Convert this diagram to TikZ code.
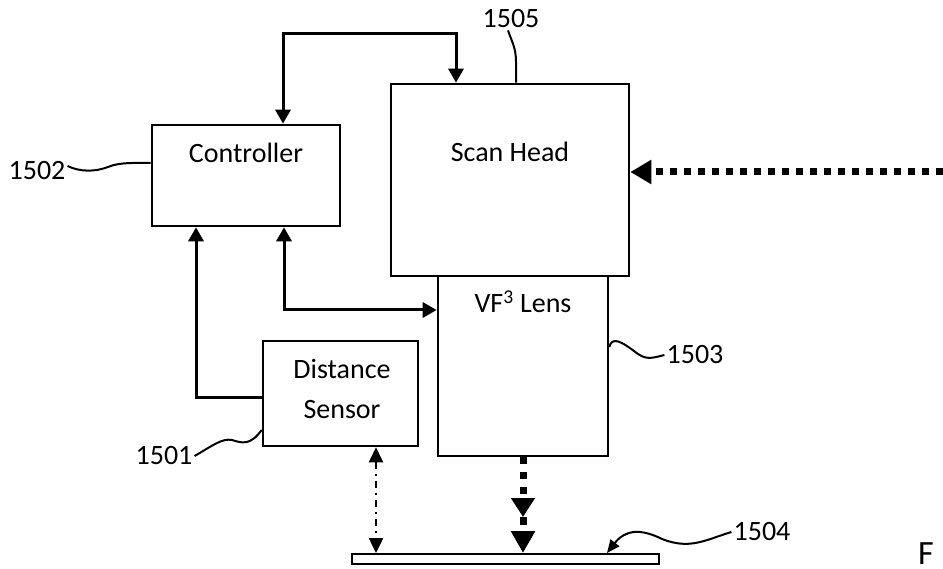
\documentclass[tikz,border=0pt]{standalone}
\usepackage{fontspec}
\setmainfont{Carlito}
\usetikzlibrary{arrows.meta,calc}
\begin{document}
\begin{tikzpicture}[x=1pt,y=-1pt,
  every node/.style={font=\fontsize{28}{32}\selectfont},
  blk/.style={draw, line width=2.6pt, inner sep=0pt},
  conn/.style={line width=3pt, >={Triangle[width=15pt,length=14pt]}},
  lead/.style={line width=2pt},
  num/.style={inner sep=2pt},
  thickdot/.style={line width=7pt, dash pattern=on 7pt off 7pt}]
\fill[white] (0,0) rectangle (943,569);
\useasboundingbox (0,0) rectangle (943,569);

% blocks
\node[blk, minimum width=188pt, minimum height=101pt] (ctrl) at (246,175.5) {};
\node[blk, minimum width=238pt, minimum height=192pt] (head) at (510,180) {};
\node[blk, minimum width=170pt, minimum height=180pt] (lens) at (523,366) {};
\node[blk, minimum width=155pt, minimum height=105pt] (sensor) at (340.5,393.5) {};
\node[draw, line width=2pt, inner sep=0pt, minimum width=307pt, minimum height=10pt] (plate) at (505.5,559) {};

% block texts
\node[anchor=base] (ctrltxt) at (246,163) {Controller};
\node[anchor=base] (headtxt) at (510,162) {Scan Head};
\node[anchor=base] (lenstxt) at (523,313) {VF\textsuperscript{3} Lens};
\node[align=center, font=\fontsize{28}{40}\selectfont] (senstxt) at (342,389) {Distance\\Sensor};

% connectors
\coordinate (topc) at (456,34);
\draw[conn,<->] (283,0 |- ctrl.north) |- (topc) -- (topc |- head.north);
\draw[conn,->] (sensor.west |- 0,398) -| (196,0 |- ctrl.south);
\draw[conn,<->] (284,0 |- ctrl.south) |- (lens.west |- 0,310);

\coordinate (src) at (943,172);
\draw[thickdot, -{Triangle[width=23pt,length=21pt]}] (src) -- (head.east |- src);

\draw[line width=7pt, dash pattern=on 7pt off 8pt,
  -{Triangle[width=23pt,length=19pt] Rectangle[width=7pt,length=8pt,sep=6pt] Triangle[width=23pt,length=22pt]}]
  (lens.south) -- (lens.south |- plate.north);

\draw[line width=2.5pt, dash pattern=on 7pt off 5pt on 2pt off 5pt,
  >={Triangle[width=14pt,length=15pt]}, <->]
  (376,0 |- sensor.south) -- (376,0 |- plate.north);

% reference numerals
\node[num] (l1502) at (37,171) {1502};
\draw[lead] ([yshift=5pt]l1502.east) .. controls (80,172) and (95,172) .. (108,167)
  .. controls (120,162) and (135,163) .. (ctrl.west |- 0,163);

\node[num] (l1501) at (164,456) {1501};
\draw[lead] (l1501.east) .. controls (212,446) and (222,438) .. (232,440)
  .. controls (242,443) and (250,446) .. (sensor.west |- 0,430);

\node[num] (l1503) at (695,355) {1503};
\draw[lead] (lens.east |- 0,347) .. controls (612,336) and (622,342) .. (634,351)
  .. controls (646,361) and (652,358) .. (l1503.west);

\node[num] (l1504) at (762,532) {1504};
\draw[lead, -{Triangle[width=11pt,length=13pt]}] (l1504.west) .. controls (705,540) and (690,550) .. (662,539)
  .. controls (640,528) and (625,530) .. (607,0 |- plate.north);

\node[num] (l1505) at (511,19) {1505};
\draw[lead] ([xshift=-3pt]l1505.south) .. controls (512,42) and (516,48) .. (516,62) -- (516,0 |- head.north);

\node[anchor=base west, inner sep=0pt, font=\fontsize{34}{40}\selectfont] (fig) at (918,564) {F};
\end{tikzpicture}
\end{document}
